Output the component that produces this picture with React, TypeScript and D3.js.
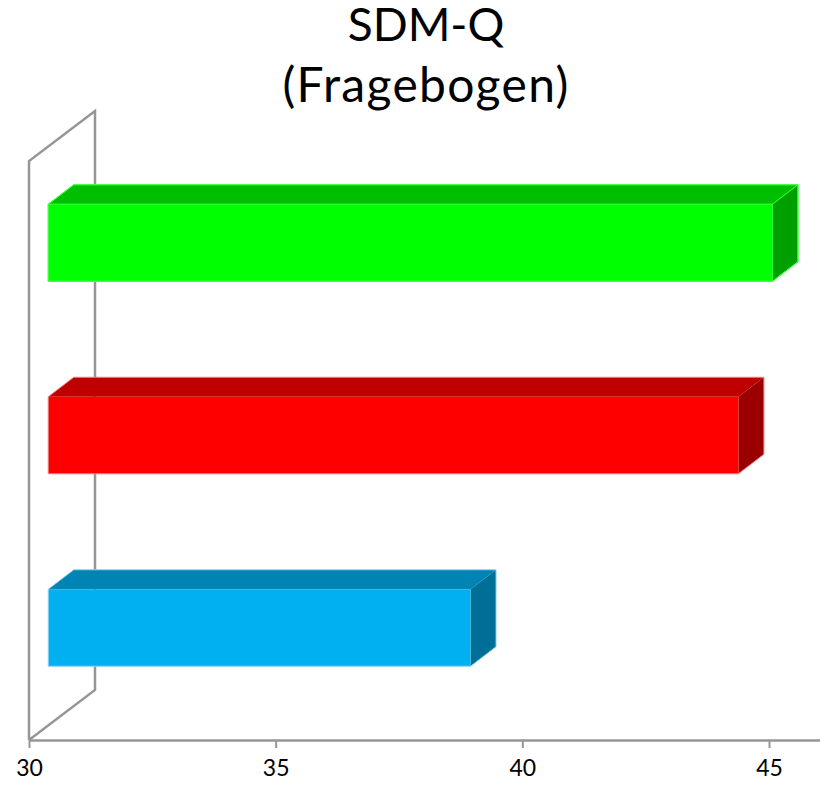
import React, { useEffect, useRef } from 'react';
import * as d3 from 'd3';

const categories = ['A', 'B', 'C'];
const values = [45.07, 44.38, 38.95];
const barStart = 30.39;
const frontColors = ['#00ff00', '#ff0000', '#00b0f0'];
const topColors = ['#00bf00', '#bf0000', '#0084b4'];
const sideColors = ['#009f00', '#9a0000', '#006f97'];
const outlineColors = ['#40ff40', '#f08080', '#90d4f0'];
const innerEdgeColors = ['#30ff30', 'none', 'none'];
const axisTicks = [30, 35, 40, 45];
const titleLines = ['SDM-Q', '(Fragebogen)'];
const titleSizes = [46, 48];
const titleSpacing = [0, 1.3];

const width = 827;
const height = 793;
const font = 'Lato, "Open Sans", sans-serif';

const App: React.FC = () => {
  const svgRef = useRef<SVGSVGElement>(null);

  useEffect(() => {
    if (!svgRef.current) return;
    const svg = d3.select(svgRef.current);
    svg.selectAll('*').remove();

    const floorY = 740;
    const depthX = 25.5;
    const depthY = 19.5;
    const wallX = 66;
    const wallY = 50;

    const x = d3.scaleLinear().domain([30, 45]).range([29, 769]);
    const y = d3.scaleBand()
      .domain(categories)
      .range([146.25, 723.75])
      .paddingInner(0.6)
      .paddingOuter(0.3);

    // Back wall
    const x0 = x(30);
    svg.append('path')
      .attr('d', `M${x0},${floorY}V161L${x0 + wallX},${161 - wallY}V${floorY - wallY}L${x0},${floorY}`)
      .attr('fill', 'none')
      .attr('stroke', '#969696')
      .attr('stroke-width', 2.5);

    // Axis
    const axis = svg.append('g')
      .attr('transform', `translate(0,${floorY})`)
      .call(d3.axisBottom(x).tickValues(axisTicks).tickFormat(d3.format('d')).tickSize(8).tickSizeOuter(0));
    axis.select('.domain')
      .attr('d', `M${x0},0.5H820`)
      .attr('stroke', '#969696')
      .attr('stroke-width', 2.5);
    axis.selectAll('.tick line').attr('stroke', '#969696').attr('stroke-width', 2);
    axis.selectAll('.tick text')
      .attr('y', 20)
      .attr('dy', '0.71em')
      .style('font-family', font)
      .style('font-size', '23px')
      .style('fill', '#000');

    // Bars
    categories.forEach((c, i) => {
      const left = x(barStart);
      const right = x(values[i]);
      const top = (y(c) || 0) + 0.25;
      const bottom = top + y.bandwidth();
      const g = svg.append('g').attr('stroke-linejoin', 'round');
      g.append('path')
        .attr('d', `M${left},${top}L${left + depthX},${top - depthY}H${right + depthX}L${right},${top}Z`)
        .attr('fill', topColors[i])
        .attr('stroke', innerEdgeColors[i]);
      g.append('path')
        .attr('d', `M${right},${top}L${right + depthX},${top - depthY}V${bottom - depthY}L${right},${bottom}Z`)
        .attr('fill', sideColors[i])
        .attr('stroke', innerEdgeColors[i]);
      g.append('rect')
        .attr('x', left)
        .attr('y', top)
        .attr('width', right - left)
        .attr('height', bottom - top)
        .attr('fill', frontColors[i])
        .attr('stroke', innerEdgeColors[i]);
      // thin pale outline round the outer edge of the box
      g.append('path')
        .attr('d', `M${left},${top}L${left + depthX},${top - depthY}H${right + depthX}V${bottom - depthY}L${right},${bottom}H${left}Z`)
        .attr('fill', 'none')
        .attr('stroke', outlineColors[i])
        .attr('stroke-width', 1);
    });

    // Title
    svg.selectAll('text.title')
      .data(titleLines)
      .join('text')
      .attr('class', 'title')
      .attr('x', 426)
      .attr('y', (_, i) => 41 + i * 61)
      .attr('text-anchor', 'middle')
      .style('font-family', font)
      .style('font-size', (_, i) => `${titleSizes[i]}px`)
      .style('letter-spacing', (_, i) => `${titleSpacing[i]}px`)
      .style('fill', '#000')
      .text(d => d);
  }, []);

  return (
    <svg
      ref={svgRef}
      width={width}
      height={height}
      style={{ position: 'absolute', left: 0, top: 0, display: 'block', background: '#fff' }}
    />
  );
};

export default App;
